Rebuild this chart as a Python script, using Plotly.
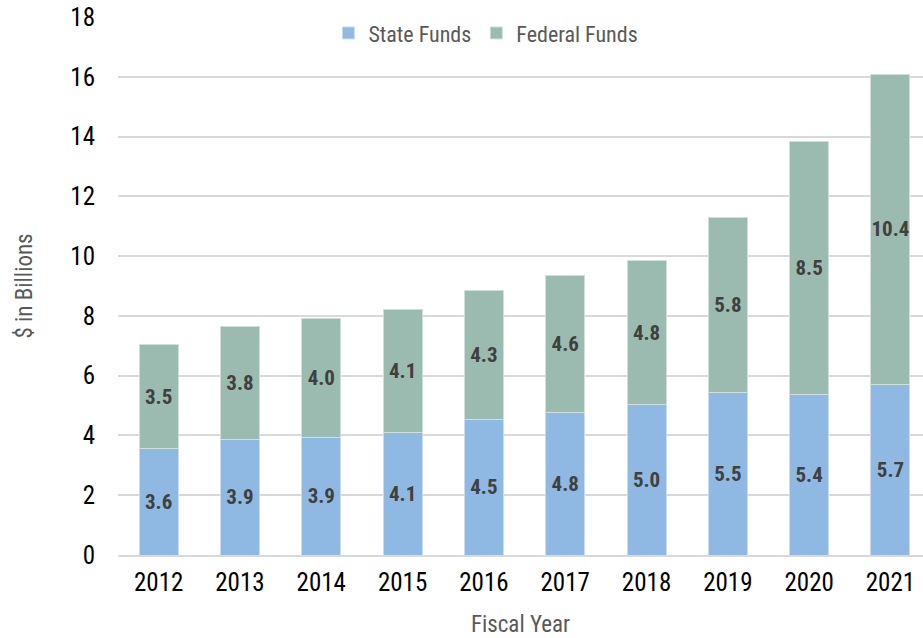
import plotly.graph_objects as go

years = ["2012", "2013", "2014", "2015", "2016", "2017", "2018", "2019", "2020", "2021"]
state_funds = [3.56, 3.86, 3.94, 4.11, 4.54, 4.78, 5.02, 5.45, 5.38, 5.72]
federal_funds = [3.47, 3.78, 3.96, 4.12, 4.31, 4.58, 4.83, 5.84, 8.47, 10.36]
y_ticks = [0, 2, 4, 6, 8, 10, 12, 14, 16, 18]

FONT = "Roboto Condensed, Liberation Sans Narrow, Arial Narrow, Liberation Sans, Arial, sans-serif"

fig = go.Figure()
fig.add_trace(go.Bar(
    x=years, y=state_funds, name="State Funds",
    marker=dict(color="#8FB9E3", line=dict(color="#C9DDF2", width=1)),
    text=[f"{v:.1f}" for v in state_funds], textposition="inside",
    insidetextanchor="middle", textangle=0, constraintext="none",
    textfont=dict(family=FONT, size=21, color="#404040", weight="bold"),
    width=0.48,
))
fig.add_trace(go.Bar(
    x=years, y=federal_funds, name="Federal Funds",
    marker=dict(color="#9CBBB0", line=dict(color="#CFE0DA", width=1)),
    text=[f"{v:.1f}" for v in federal_funds], textposition="inside",
    insidetextanchor="middle", textangle=0, constraintext="none",
    textfont=dict(family=FONT, size=21, color="#404040", weight="bold"),
    width=0.48,
))

fig.update_layout(
    width=923, height=638,
    barmode="stack",
    plot_bgcolor="white", paper_bgcolor="white",
    margin=dict(l=118, r=0, t=17, b=83),
    font=dict(family=FONT, size=24, color="#000000"),
    legend=dict(
        orientation="h", x=0.457, y=0.97, xanchor="center", yanchor="middle",
        font=dict(family=FONT, size=22, color="#595959"),
        bgcolor="rgba(0,0,0,0)", itemwidth=30, traceorder="normal",
    ),
    xaxis=dict(
        type="category", range=[-0.5, 9.4],
        showline=True, linecolor="#D9D9D9", linewidth=2,
        ticks="", ticklabelstandoff=4,
        tickfont=dict(family=FONT, size=25, color="#000000"),
        title=dict(text="Fiscal Year", font=dict(family=FONT, size=23, color="#595959"), standoff=26),
    ),
    yaxis=dict(
        range=[0, 18], tickvals=y_ticks,
        showgrid=True, gridcolor="#D9D9D9", gridwidth=2,
        zeroline=False, ticks="", ticklabelstandoff=22,
        tickfont=dict(family=FONT, size=25, color="#000000"),
        title=dict(text="$ in Billions", font=dict(family=FONT, size=23, color="#595959"), standoff=31),
    ),
)

fig.write_html("out.html", config={"displayModeBar": False},
               post_script="document.body.style.margin='0';document.body.style.overflow='hidden';")
